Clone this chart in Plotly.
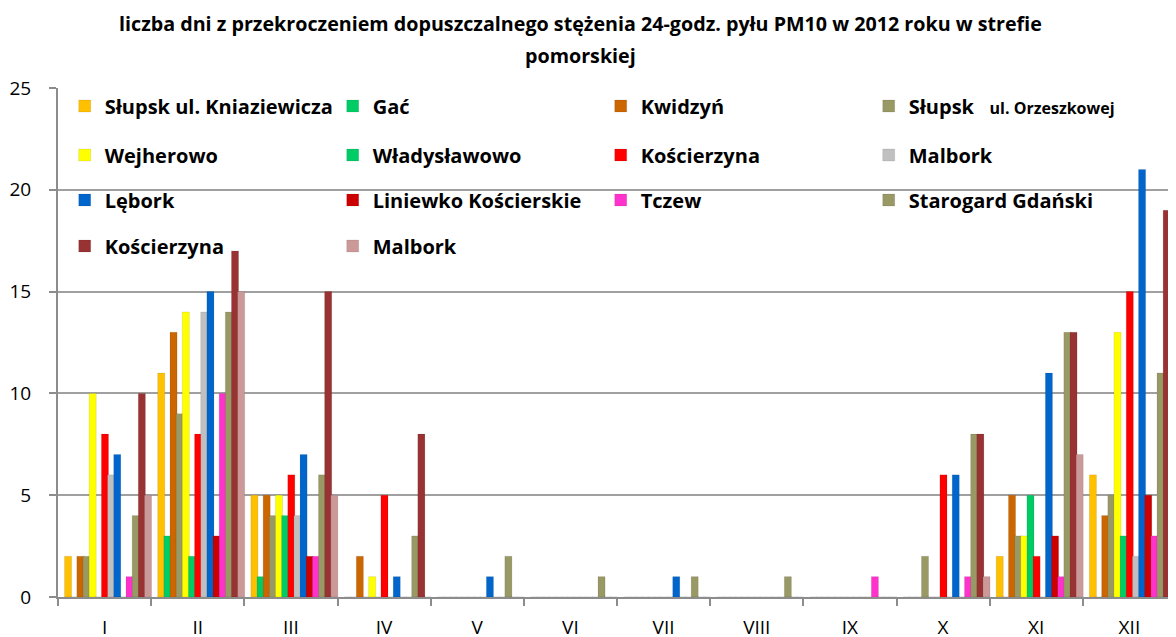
import plotly.graph_objects as go

months = ["I", "II", "III", "IV", "V", "VI", "VII", "VIII", "IX", "X", "XI", "XII"]

kniaziewicza = [2, 11, 5, 0, 0, 0, 0, 0, 0, 0, 2, 6]
gac = [0, 3, 1, 0, 0, 0, 0, 0, 0, 0, 0, 0]
kwidzyn = [2, 13, 5, 2, 0, 0, 0, 0, 0, 0, 5, 4]
orzeszkowej = [2, 9, 4, 0, 0, 0, 0, 0, 0, 2, 3, 5]
wejherowo = [10, 14, 5, 1, 0, 0, 0, 0, 0, 0, 3, 13]
wladyslawowo = [0, 2, 4, 0, 0, 0, 0, 0, 0, 0, 5, 3]
koscierzyna = [8, 8, 6, 5, 0, 0, 0, 0, 0, 6, 2, 15]
malbork = [6, 14, 4, 0, 0, 0, 0, 0, 0, 0, 0, 2]
lebork = [7, 15, 7, 1, 1, 0, 1, 0, 0, 6, 11, 21]
liniewko = [0, 3, 2, 0, 0, 0, 0, 0, 0, 0, 3, 5]
tczew = [1, 10, 2, 0, 0, 0, 0, 0, 1, 1, 1, 3]
starogard = [4, 14, 6, 3, 2, 1, 1, 1, 0, 8, 13, 11]
koscierzyna_2 = [10, 17, 15, 8, 0, 0, 0, 0, 0, 8, 13, 19]
malbork_2 = [5, 15, 5, 0, 0, 0, 0, 0, 0, 1, 7, 13]

series_names = [
    "Słupsk ul. Kniaziewicza", "Gać", "Kwidzyń",
    "Słupsk \u00a0\u00a0<span style='font-size:16px'>ul. Orzeszkowej</span>",
    "Wejherowo", "Władysławowo", "Kościerzyna", "Malbork",
    "Lębork", "Liniewko Kościerskie", "Tczew", "Starogard Gdański",
    "Kościerzyna", "Malbork",
]
series_values = [
    kniaziewicza, gac, kwidzyn, orzeszkowej,
    wejherowo, wladyslawowo, koscierzyna, malbork,
    lebork, liniewko, tczew, starogard,
    koscierzyna_2, malbork_2,
]
series_colors = [
    "#FFC000", "#00CC66", "#CC6600", "#999966",
    "#FFFF00", "#00CC66", "#FF0000", "#C0C0C0",
    "#0066CC", "#CC0000", "#FF33CC", "#999966",
    "#993333", "#CC9999",
]

title_line1 = "liczba dni z przekroczeniem dopuszczalnego stężenia 24-godz. pyłu PM10 w 2012 roku w strefie"
title_line2 = "pomorskiej"

legend_ids = ["legend", "legend2", "legend3", "legend4"]

# the page places the figure 8px from the top-left corner (browser body margin)
W, H = 1168, 629
ML, MR, MT, MB = 50, 0, 80, 40
plot_h = H - MT - MB
plot_w = W - ML - MR

bar_step = 0.066
bar_width = 0.076
bar_start = -0.43

fig = go.Figure()
for i, (name, vals, col) in enumerate(zip(series_names, series_values, series_colors)):
    fig.add_trace(go.Bar(
        x=months, y=vals, name=name,
        legend=legend_ids[i // 4],
        offset=bar_start + i * bar_step, width=bar_width,
        marker=dict(color=col, line=dict(color="rgba(0,0,0,0.15)", width=0.6)),
    ))

font_family = "Open Sans"

row_centers = [98, 147, 192, 238]  # figure-pixel centres of legend rows
legend_common = dict(
    orientation="h", x=0.006, xanchor="left", yanchor="middle",
    bgcolor="rgba(0,0,0,0)", entrywidth=223, entrywidthmode="pixels",
    font=dict(family=font_family, size=20, color="#000000", weight="bold"),
    traceorder="normal", itemclick=False, itemdoubleclick=False,
)
legends = {}
for lid, yc in zip(legend_ids, row_centers):
    legends[lid] = dict(legend_common, y=1 - (yc - MT) / plot_h)

title_x = (572 - ML) / plot_w

fig.update_layout(
    width=W, height=H,
    margin=dict(l=ML, r=MR, t=MT, b=MB, pad=0),
    paper_bgcolor="white", plot_bgcolor="white",
    barmode="overlay",
    font=dict(family=font_family, color="#000000"),
    showlegend=True,
    annotations=[
        dict(text="<b>" + title_line1 + "</b>", xref="paper", yref="paper",
             x=title_x, y=1.0, yshift=MT - 15, xanchor="center", yanchor="middle",
             showarrow=False, font=dict(family=font_family, size=19.7, color="#000000")),
        dict(text="<b>" + title_line2 + "</b>", xref="paper", yref="paper",
             x=title_x, y=1.0, yshift=MT - 47, xanchor="center", yanchor="middle",
             showarrow=False, font=dict(family=font_family, size=19.7, color="#000000")),
    ],
    xaxis=dict(
        type="category", range=[-0.5, 11.5], showgrid=False, showline=True,
        linecolor="#8c8c8c", linewidth=2,
        ticks="outside", tickson="boundaries", ticklen=7, tickcolor="#8c8c8c", tickwidth=2,
        tickfont=dict(family=font_family, size=19, color="#000000"),
        ticklabelstandoff=12, automargin=False,
    ),
    yaxis=dict(
        range=[0, 25], dtick=5, showgrid=True, gridcolor="#a0a0a0", gridwidth=2,
        showline=True, linecolor="#8c8c8c", linewidth=2, zeroline=False,
        ticks="outside", ticklen=7, tickcolor="#8c8c8c", tickwidth=2,
        tickfont=dict(family=font_family, size=19, color="#000000"),
        ticklabelstandoff=14, automargin=False,
    ),
    **legends,
)

fig.write_html("out.html")
